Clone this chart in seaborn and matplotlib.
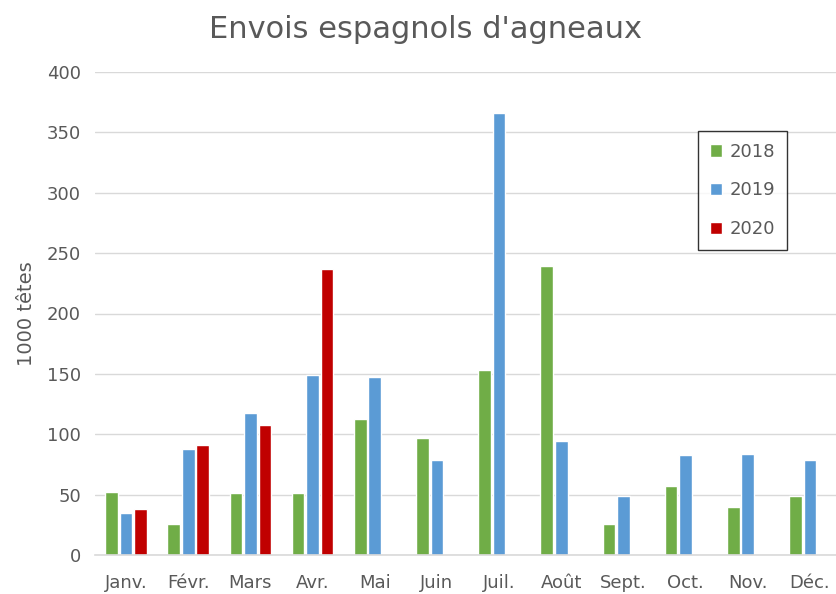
import numpy as np
import pandas as pd
import matplotlib
matplotlib.use("Agg")
import matplotlib.pyplot as plt
import seaborn as sns

# Data (1000 têtes)
months = ["Janv.", "Févr.", "Mars", "Avr.", "Mai", "Juin", "Juil.",
          "Août", "Sept.", "Oct.", "Nov.", "Déc."]
y2018 = [52, 26, 51, 51, 113, 97, 153, 239, 26, 57, 40, 49]
y2019 = [35, 88, 118, 149, 147, 79, 366, 94, 49, 83, 84, 79]
y2020 = [38, 91, 108, 237, np.nan, np.nan, np.nan, np.nan, np.nan, np.nan, np.nan, np.nan]
years = ["2018", "2019", "2020"]
colors = ["#70ad47", "#5b9bd5", "#c00000"]

df = pd.concat([
    pd.DataFrame({"mois": months, "annee": yr, "valeur": vals})
    for yr, vals in zip(years, [y2018, y2019, y2020])
], ignore_index=True)

sns.set_theme(style="white")
plt.rcParams["font.family"] = ["DejaVu Sans"]
text_col = "#595959"

fig = plt.figure(figsize=(8.37, 5.94), dpi=100)
ax = fig.add_axes([95 / 837, 1 - 555 / 594, 746 / 837, 483 / 594])

sns.barplot(data=df, x="mois", y="valeur", hue="annee", order=months,
            hue_order=years, palette=colors, width=0.7, gap=0.12,
            saturation=1, ax=ax, legend=True)

ax.set_ylim(0, 400)
ax.set_xlim(-0.5, 11.5)
ax.set_yticks(range(0, 401, 50))
ax.yaxis.grid(True, color="#d9d9d9", linewidth=1)
ax.set_axisbelow(True)
for s in ["left", "right", "top"]:
    ax.spines[s].set_visible(False)
ax.spines["bottom"].set_color("#d9d9d9")
ax.spines["bottom"].set_linewidth(1.2)
ax.tick_params(axis="both", length=0, labelsize=13, colors=text_col, pad=10)
ax.tick_params(axis="x", pad=14)
ax.set_xlabel("")
ax.set_ylabel("1000 têtes", fontsize=14, color=text_col, labelpad=8)

fig.suptitle("Envois espagnols d'agneaux", x=0.508, y=0.975, fontsize=22,
             color=text_col)

handles, labels = ax.get_legend_handles_labels()
ax.legend(handles, labels, loc="upper left", bbox_to_anchor=(0.808, 0.878),
          borderaxespad=0, frameon=True, fancybox=False, edgecolor="black",
          fontsize=13, labelcolor=text_col, handlelength=0.7, handleheight=0.7,
          labelspacing=1.15, borderpad=0.65, handletextpad=0.4)

fig.savefig("out.png", dpi=100)
